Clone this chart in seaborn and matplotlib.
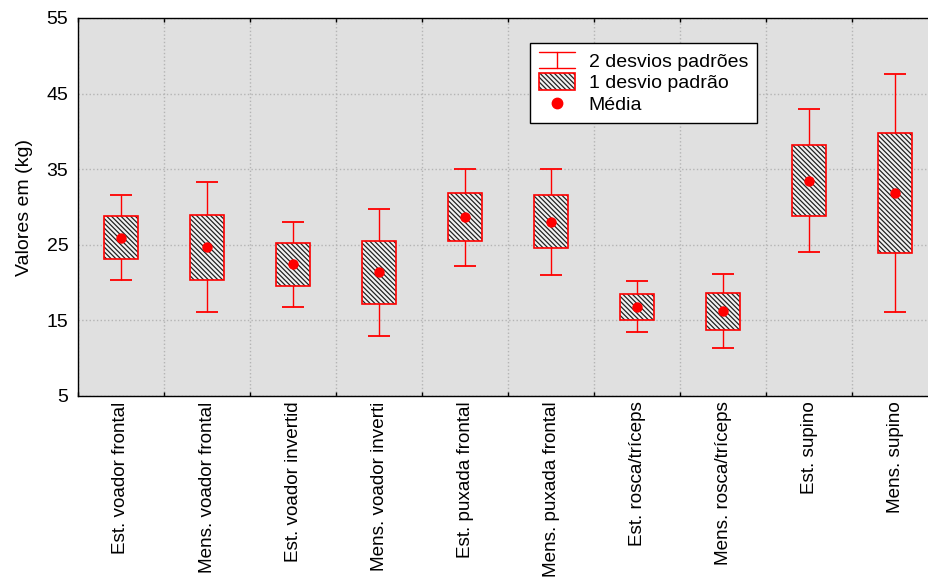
import numpy as np
import pandas as pd
import matplotlib
matplotlib.use("Agg")
import matplotlib.pyplot as plt
import seaborn as sns
from matplotlib.legend_handler import HandlerBase
from matplotlib.lines import Line2D
from matplotlib.patches import Rectangle

exercicios = ["Est. voador frontal", "Mens. voador frontal", "Est. voador invertid",
              "Mens. voador inverti", "Est. puxada frontal", "Mens. puxada frontal",
              "Est. rosca/tríceps", "Mens. rosca/tríceps", "Est. supino", "Mens. supino"]
medias = [25.95, 24.7, 22.4, 21.35, 28.65, 28.05, 16.8, 16.2, 33.5, 31.85]
desvios = [2.8, 4.3, 2.8, 4.2, 3.2, 3.5, 1.7, 2.45, 4.75, 7.9]
y_ticks = [5, 15, 25, 35, 45, 55]

VERMELHO = "#ff0000"
FONTE = 14


class DoisDesvios:
    pass


class HandlerIBeam(HandlerBase):
    # vertical line with caps, like the whiskers
    def create_artists(self, legend, orig_handle, xdescent, ydescent, width, height, fontsize, trans):
        x0, x1 = -xdescent, -xdescent + width
        xm = (x0 + x1) / 2
        y0, y1 = -ydescent, -ydescent + height
        linhas = [Line2D([xm, xm], [y0, y1]), Line2D([x0, x1], [y0, y0]), Line2D([x0, x1], [y1, y1])]
        for l in linhas:
            l.set_color(VERMELHO)
            l.set_linewidth(1.0)
            l.set_transform(trans)
        return linhas


sns.set_theme(style="white")
plt.rcParams["font.family"] = ["Liberation Sans", "DejaVu Sans"]
plt.rcParams["hatch.linewidth"] = 0.9
plt.rcParams["text.color"] = "black"
plt.rcParams["axes.labelcolor"] = "black"
plt.rcParams["xtick.color"] = "black"
plt.rcParams["ytick.color"] = "black"

df = pd.DataFrame({"exercicio": exercicios, "media": medias, "dp": desvios})

fig = plt.figure(figsize=(9.29, 5.79), dpi=100)
ax = fig.add_axes([78 / 929, 183 / 579, 860 / 929, 378 / 579])
ax.set_facecolor("#e0e0e0")

x = np.arange(len(df))
hatch = "\\" * 7

# 2 desvios
ax.vlines(x, df.media - 2 * df.dp, df.media + 2 * df.dp, color=VERMELHO, lw=1.0, zorder=2)
ax.hlines(df.media - 2 * df.dp, x - 0.125, x + 0.125, color=VERMELHO, lw=1.3, zorder=2)
ax.hlines(df.media + 2 * df.dp, x - 0.125, x + 0.125, color=VERMELHO, lw=1.3, zorder=2)

# 1 desvio
ax.bar(x, 2 * df.dp, bottom=df.media - df.dp, width=0.385, color="#f2f2f2",
       edgecolor="#222222", hatch=hatch, linewidth=0, zorder=3)
ax.bar(x, 2 * df.dp, bottom=df.media - df.dp, width=0.385, fill=False,
       edgecolor=VERMELHO, linewidth=1.2, zorder=4)

# media
sns.stripplot(data=df, x="exercicio", y="media", jitter=False, color=VERMELHO,
              size=7.5, linewidth=0, zorder=5, ax=ax)

ax.set_xlim(-0.5, len(df) - 0.5)
ax.set_ylim(5, 55)
ax.set_yticks(y_ticks)
ax.set_xticks(np.arange(-0.5, len(df), 1))
ax.set_xticklabels([])
ax.set_xticks(x, minor=True)
ax.set_xticklabels(exercicios, minor=True, rotation=90, fontsize=13.6, va="top", ha="center")
ax.tick_params(axis="x", which="major", direction="in", length=3, width=1, top=True, bottom=True, color="black")
ax.tick_params(axis="x", which="minor", length=0, pad=4)
ax.tick_params(axis="y", length=0, pad=7, labelsize=FONTE)
ax.set_xlabel("")
ax.set_ylabel("Valores em (kg)", fontsize=FONTE, labelpad=10)
ax.set_axisbelow(True)
ax.grid(True, which="major", linestyle=":", color="#b4b4b4", lw=1.0)
for s in ax.spines.values():
    s.set_color("black")
    s.set_linewidth(1.0)

h_hatch = Rectangle((0, 0), 1, 1, facecolor="#f2f2f2", edgecolor="#222222", hatch=hatch, linewidth=0)
h_borda = Rectangle((0, 0), 1, 1, fill=False, edgecolor=VERMELHO, linewidth=1.2)
h_media = Line2D([], [], marker="o", color=VERMELHO, linestyle="none", markersize=7.5)
leg = ax.legend([DoisDesvios(), (h_hatch, h_borda), h_media],
                ["2 desvios padrões", "1 desvio padrão", "Média"],
                handler_map={DoisDesvios: HandlerIBeam()},
                loc="upper left", bbox_to_anchor=(530 / 929, 1 - 43 / 579),
                bbox_transform=fig.transFigure, fontsize=FONTE, frameon=True,
                fancybox=False, framealpha=1, edgecolor="black",
                handlelength=1.85, handleheight=0.9, handletextpad=0.72,
                labelspacing=0.15, borderpad=0.45, borderaxespad=0)
leg.get_frame().set_linewidth(1.0)

fig.savefig("out.png", dpi=100)
